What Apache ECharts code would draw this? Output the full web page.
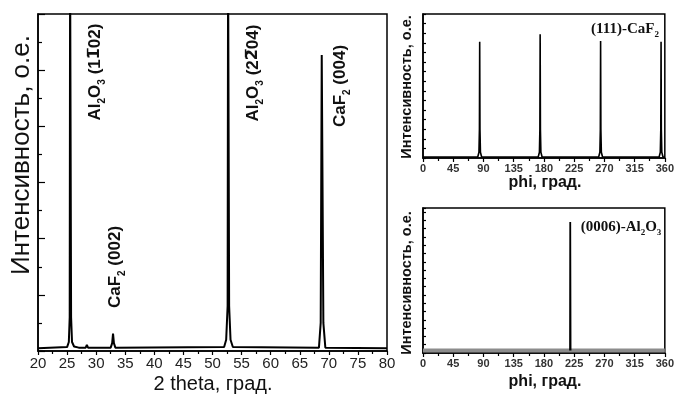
<!DOCTYPE html>
<html><head><meta charset="utf-8">
<script src="https://cdn.jsdelivr.net/npm/echarts@6/dist/echarts.min.js"></script>
<style>html,body{margin:0;padding:0;background:#fff}#c{width:677px;height:403px}</style>
</head><body><div id="c"></div>
<script>
// XRD 2theta scan
const thetaX = [20, 25.0, 25.3, 25.45, 25.52, 25.62, 25.69, 25.85, 26.2, 27.0, 28.2, 28.4, 28.6, 32.5, 32.75, 32.9, 33.05, 33.3, 52.0, 52.35, 52.6, 52.68, 52.78, 52.86, 53.1, 53.5, 68.3, 68.6, 68.78, 68.88, 69.06, 69.4, 80];
const thetaY = [0.05, 0.07, 0.16, 0.6, 7, 7, 0.6, 0.16, 0.08, 0.06, 0.06, 0.11, 0.06, 0.06, 0.14, 0.31, 0.14, 0.06, 0.07, 0.2, 0.8, 7, 7, 0.8, 0.2, 0.07, 0.06, 0.5, 5.27, 5.27, 0.5, 0.06, 0.05];
const thetaTicks = [20, 25, 30, 35, 40, 45, 50, 55, 60, 65, 70, 75, 80];
// phi scan CaF2 (111)
const phiCaX = [0, 81.5, 83.3, 84.0, 84.4, 84.8, 85.5, 87.3, 171.5, 173.3, 174.0, 174.4, 174.8, 175.5, 177.3, 261.5, 263.3, 264.0, 264.4, 264.8, 265.5, 267.3, 351.5, 353.3, 354.0, 354.4, 354.8, 355.5, 357.3, 360];
const phiCaY = [0.1, 0.1, 0.6, 3, 12.1, 3, 0.6, 0.1, 0.1, 0.6, 3, 12.9, 3, 0.6, 0.1, 0.1, 0.6, 3, 12.2, 3, 0.6, 0.1, 0.1, 0.6, 3, 12.1, 3, 0.6, 0.1, 0.1];
// phi scan Al2O3 (0006)
const phiAlBaseX = [0, 360];
const phiAlBaseY = [0.3, 0.3];
const phiAlX = [218.9, 219.2, 219.4, 219.7];
const phiAlY = [0.3, 15.8, 15.8, 0.3];
const phiTicks = [0, 45, 90, 135, 180, 225, 270, 315, 360];

const zip = (a, b) => a.map((v, i) => [v, b[i]]);
const SANS = 'Liberation Sans, Arial, sans-serif';
const SERIF = 'Liberation Serif, Times New Roman, serif';

function xAx(idx, min, max, interval, fs, bold, margin) {
  return {type: 'value', gridIndex: idx, min, max, interval,
    axisLine: {show: true, onZero: false, lineStyle: {color: '#000', width: 1.5}},
    axisTick: {show: true, inside: false, length: 4, lineStyle: {color: '#000', width: 1.2}},
    minorTick: {show: true, splitNumber: 2, length: 3, lineStyle: {color: '#000', width: 1.2}},
    splitLine: {show: false},
    axisLabel: {fontFamily: SANS, fontSize: fs, fontWeight: bold ? 'bold' : 'normal', color: bold ? '#333' : '#222', margin}};
}
function yAx(idx, min, max, interval, minor, len) {
  return {type: 'value', gridIndex: idx, min, max, interval,
    axisLine: {show: true, onZero: false, lineStyle: {color: '#000', width: 1.5}},
    axisTick: {show: true, inside: true, length: len, lineStyle: {color: '#000', width: 1.2}},
    minorTick: {show: minor, splitNumber: 2, length: 4, lineStyle: {color: '#000', width: 1.2}},
    splitLine: {show: false}, axisLabel: {show: false}};
}
function vtext(x, y, text, fs, rich, weight, family) {
  return {type: 'text', x, y, rotation: Math.PI / 2,
    style: {text, fontFamily: family || SANS, fontSize: fs, fontWeight: weight || 'bold', fill: '#111',
      align: 'center', verticalAlign: 'middle', rich: rich || {}}};
}
const subRich = (fs) => ({
  n: {fontFamily: SANS, fontSize: fs, fontWeight: 'bold', fill: '#111', lineHeight: fs + 8, verticalAlign: 'middle'},
  b: {fontFamily: 'DejaVu Sans', fontSize: fs - 1, fontWeight: 'bold', fill: '#111', lineHeight: fs + 8, verticalAlign: 'middle'},
  s: {fontFamily: SANS, fontSize: Math.round(fs * 0.6), fontWeight: 'bold', fill: '#111', lineHeight: fs + 8, verticalAlign: 'bottom'}
});
const serifRich = {
  n: {fontFamily: SERIF, fontSize: 15, fontWeight: 'bold', fill: '#111', lineHeight: 20},
  s: {fontFamily: SERIF, fontSize: 9, fontWeight: 'bold', fill: '#111', lineHeight: 20, verticalAlign: 'bottom', padding: [6, 0, 0, 0]}
};

const chart = echarts.init(document.getElementById('c'), null, {renderer: 'canvas'});
chart.setOption({
  animation: false,
  backgroundColor: '#fff',
  grid: [
    {left: 38, top: 14, width: 349, height: 337, show: true, borderColor: '#000', borderWidth: 1.5},
    {left: 423, top: 14, width: 245, height: 144, show: true, borderColor: '#000', borderWidth: 1.5},
    {left: 423, top: 208, width: 245, height: 145, show: true, borderColor: '#000', borderWidth: 1.5}
  ],
  xAxis: [
    xAx(0, 20, 80, 5, 15, false, 5),
    xAx(1, 0, 360, 45, 11, true, 5),
    xAx(2, 0, 360, 45, 11, true, 5)
  ],
  yAxis: [
    yAx(0, 0, 6, 1, true, 7),
    yAx(1, 0, 15, 1, false, 3),
    yAx(2, 0, 17.5, 1, false, 3)
  ],
  series: [
    {type: 'line', xAxisIndex: 0, yAxisIndex: 0, data: zip(thetaX, thetaY), showSymbol: false, clip: true,
      lineStyle: {color: '#000', width: 2}},
    {type: 'line', xAxisIndex: 1, yAxisIndex: 1, data: zip(phiCaX, phiCaY), showSymbol: false, clip: true,
      lineStyle: {color: '#000', width: 1.6}},
    {type: 'line', xAxisIndex: 2, yAxisIndex: 2, data: zip(phiAlBaseX, phiAlBaseY), showSymbol: false, clip: true,
      lineStyle: {color: '#8c8c8c', width: 4}},
    {type: 'line', xAxisIndex: 2, yAxisIndex: 2, data: zip(phiAlX, phiAlY), showSymbol: false, clip: true,
      lineStyle: {color: '#000', width: 1.8}}
  ],
  graphic: [
    vtext(22, 155, 'Интенсивность, о.е.', 26, null, 'normal'),
    {type: 'text', x: 213, y: 384, style: {text: '2 theta, град.', fontFamily: SANS, fontSize: 20, fill: '#111', align: 'center', verticalAlign: 'middle'}},
    vtext(95, 72, '{n|Al}{s|2}{n|O}{s|3}{n| (1}{b|1\u0305}{n|02)}', 17, subRich(17)),
    vtext(115, 267, '{n|CaF}{s|2}{n| (002)}', 17, subRich(17)),
    vtext(253, 73, '{n|Al}{s|2}{n|O}{s|3}{n| (2}{b|2\u0305}{n|04)}', 17, subRich(17)),
    vtext(340, 86, '{n|CaF}{s|2}{n| (004)}', 17, subRich(17)),
    vtext(407, 87, 'Интенсивность, о.е.', 14.5, null, 'bold'),
    vtext(407, 283, 'Интенсивность, о.е.', 14.5, null, 'bold'),
    {type: 'text', x: 545, y: 183, style: {text: 'phi, град.', fontFamily: SANS, fontSize: 16, fontWeight: 'bold', fill: '#111', align: 'center', verticalAlign: 'middle'}},
    {type: 'text', x: 545, y: 382, style: {text: 'phi, град.', fontFamily: SANS, fontSize: 16, fontWeight: 'bold', fill: '#111', align: 'center', verticalAlign: 'middle'}},
    {type: 'text', x: 625, y: 29, style: {text: '{n|(111)-CaF}{s|2}', align: 'center', verticalAlign: 'middle', rich: serifRich}},
    {type: 'text', x: 621, y: 227, style: {text: '{n|(0006)-Al}{s|2}{n|O}{s|3}', align: 'center', verticalAlign: 'middle', rich: serifRich}}
  ]
});
</script></body></html>
